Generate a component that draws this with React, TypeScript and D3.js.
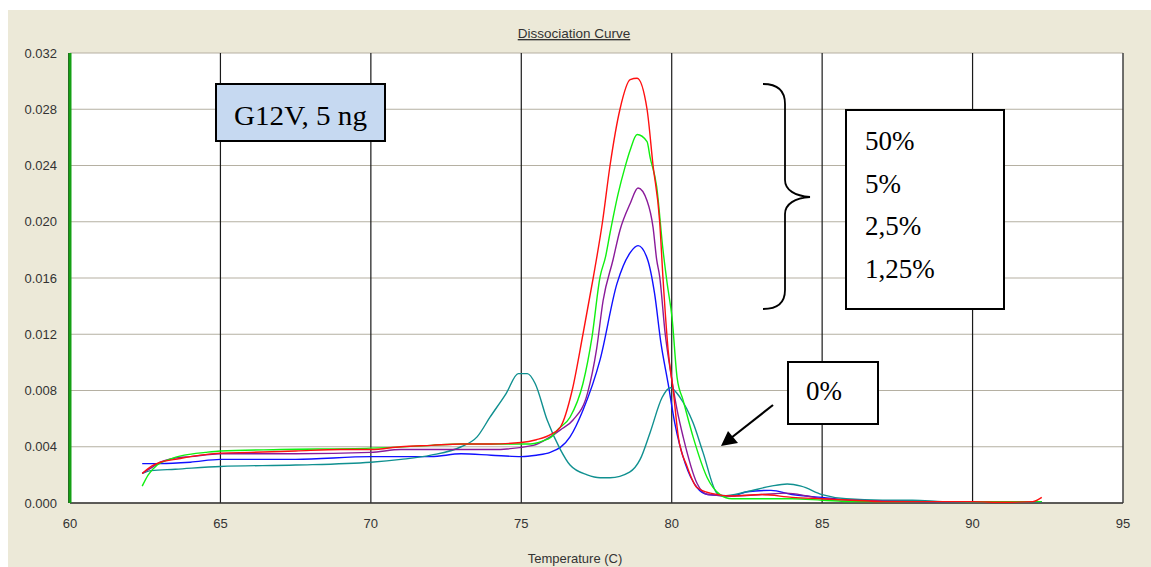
import React from "react";
import * as d3 from "d3";

const xTicks = [60, 65, 70, 75, 80, 85, 90, 95];
const yTicks = [0, 0.004, 0.008, 0.012, 0.016, 0.02, 0.024, 0.028, 0.032];
const vGrid = [65, 70, 75, 80, 85, 90];

const red50: [number, number][] = [
  [62.4, 0.0021], [62.7, 0.0026], [63.0, 0.0029], [63.5, 0.0031], [64, 0.0033], [65, 0.00355],
  [66, 0.0036], [67.5, 0.0037], [69, 0.0038], [70, 0.0038], [71, 0.004], [72, 0.0041], [73, 0.0042],
  [74, 0.0042], [75, 0.0043], [75.5, 0.0045], [76, 0.0049], [76.3, 0.0054], [76.69, 0.008],
  [77.05, 0.012], [77.39, 0.016], [77.7, 0.02], [77.95, 0.024], [78.28, 0.028], [78.62, 0.0301],
  [78.85, 0.0302], [79.18, 0.028], [79.38, 0.024], [79.6, 0.02], [79.71, 0.016], [79.88, 0.0109],
  [80.05, 0.008], [80.22, 0.0047], [80.51, 0.0026], [80.84, 0.0011], [81.28, 0.0007], [82, 0.0005],
  [83, 0.0006], [84, 0.0004], [85, 0.0003], [86, 0.0002], [87, 0.0001], [88, 0.0001], [90, 0.0001],
  [91, 0.00005], [92, 0.0001], [92.3, 0.0004],
];

const green5: [number, number][] = [
  [62.4, 0.0012], [62.6, 0.002], [62.9, 0.0027], [63.3, 0.0031], [63.8, 0.0034], [64.5, 0.0036],
  [65, 0.0037], [67, 0.0038], [70, 0.0039], [72, 0.0041], [73, 0.0042], [74.5, 0.0042], [75.3, 0.0042],
  [75.7, 0.0044], [76.0, 0.0047], [76.2, 0.0052], [76.62, 0.0061], [77.05, 0.0085], [77.35, 0.0118],
  [77.62, 0.0161], [77.8, 0.0175], [77.95, 0.0192], [78.22, 0.022], [78.45, 0.0239], [78.62, 0.0251],
  [78.85, 0.0262], [79.18, 0.0257], [79.28, 0.0246], [79.5, 0.0225], [79.71, 0.018], [79.85, 0.0156],
  [80.01, 0.0132], [80.18, 0.0089], [80.38, 0.0073], [80.71, 0.0047], [81.18, 0.0018], [81.61, 0.0006],
  [82, 0.0003], [84, 0.0003], [85, 0.0002], [86, 0.0001], [90, 0.0001], [92.3, 0.0001],
];

const purple25: [number, number][] = [
  [62.4, 0.0021], [62.7, 0.0025], [63, 0.0029], [63.5, 0.0032], [64, 0.0033], [65, 0.0035],
  [67.5, 0.0035], [70, 0.0036], [71, 0.0038], [72, 0.0038], [74, 0.0038], [75.4, 0.0041],
  [75.96, 0.0047], [76.3, 0.0052], [76.72, 0.0059], [77.2, 0.0078], [77.5, 0.0109], [77.72, 0.0144],
  [78.05, 0.0173], [78.28, 0.0194], [78.62, 0.0213], [78.88, 0.0224], [79.18, 0.0215], [79.38, 0.0196],
  [79.5, 0.0173], [79.6, 0.0161], [79.78, 0.0121], [79.95, 0.0095], [80.18, 0.0066], [80.38, 0.0047],
  [80.84, 0.0014], [81.2, 0.0006], [82, 0.0005], [83, 0.0006], [83.8, 0.0007], [84.5, 0.0005],
  [85, 0.0003], [86, 0.0002], [88, 0.0001], [90, 0.0001], [92.3, 0.0001],
];

const blue125: [number, number][] = [
  [62.4, 0.0028], [63, 0.0028], [64, 0.0029], [65, 0.0031], [67.5, 0.0031], [70, 0.0033],
  [72, 0.0033], [73, 0.0035], [74, 0.0034], [75, 0.0033], [75.5, 0.0034], [75.96, 0.0036],
  [76.62, 0.0047], [77.05, 0.0066], [77.62, 0.0102], [78.18, 0.0156], [78.62, 0.0178], [78.88, 0.0183],
  [79.2, 0.0173], [79.43, 0.0149], [79.64, 0.0114], [79.88, 0.0085], [80.1, 0.0057], [80.45, 0.0028],
  [80.84, 0.0011], [81.2, 0.0006], [82, 0.0005], [82.5, 0.0008], [83.3, 0.0009], [84, 0.0006],
  [85, 0.0004], [86, 0.0002], [88, 0.0001], [90, 0.00005], [92.3, 0.0001],
];

const teal0: [number, number][] = [
  [62.4, 0.0021], [62.7, 0.0023], [63.5, 0.0024], [65, 0.0026], [67.5, 0.0027], [70, 0.0029],
  [71, 0.0031], [72, 0.0034], [73, 0.004], [73.53, 0.0047], [73.96, 0.0061], [74.5, 0.0078],
  [74.9, 0.0092], [75.2, 0.0092], [75.46, 0.0085], [75.86, 0.0059], [76.3, 0.0038], [76.62, 0.0027],
  [77.19, 0.002], [77.62, 0.0018], [77.95, 0.0018], [78.6, 0.0022], [78.95, 0.0031], [79.28, 0.005],
  [79.68, 0.0075], [79.95, 0.0082], [80.28, 0.0075], [80.71, 0.0057], [81.04, 0.0036], [81.5, 0.0007],
  [81.7, 0.0005], [82.5, 0.0008], [83.3, 0.0012], [83.84, 0.00135], [84.3, 0.0012], [85, 0.0006],
  [85.8, 0.0003], [87, 0.0002], [88, 0.0002], [89, 0.0001], [90, 0.00005], [92.3, 0.0001],
];

const seriesList = [
  { name: "1,25%", data: blue125, color: "#1010ff" },
  { name: "0%", data: teal0, color: "#109090" },
  { name: "2,5%", data: purple25, color: "#8a1a9a" },
  { name: "5%", data: green5, color: "#10f010" },
  { name: "50%", data: red50, color: "#ff1010" },
];

const legendLabels = ["50%", "5%", "2,5%", "1,25%"];

const W = 1151;
const H = 567;
const L = 70, R = 1123, T = 53, B = 503;

export default function App() {
  const x = d3.scaleLinear().domain([60, 95]).range([L, R]);
  const y = d3.scaleLinear().domain([0, 0.032]).range([B, T]);
  const line = d3
    .line<[number, number]>()
    .x((d) => x(d[0]))
    .y((d) => y(d[1]))
    .curve(d3.curveMonotoneX);
  const axisFont = "'Liberation Sans', Arial, sans-serif";
  const serif = "'Liberation Serif', 'Times New Roman', serif";

  return (
    <svg
      width={W}
      height={H}
      style={{ position: "absolute", left: 0, top: 0 }}
    >
      <rect x={0} y={0} width={W} height={H} fill="#ffffff" />
      <rect x={8} y={10} width={W - 8} height={H - 10} fill="#ECE9D8" />
      <rect x={L} y={T} width={R - L} height={B - T} fill="#ffffff" />
      {yTicks.map((t) => (
        <line key={"h" + t} x1={L} x2={R} y1={y(t)} y2={y(t)} stroke="#B5B0A2" strokeWidth={1.2} />
      ))}
      {vGrid.map((t) => (
        <line key={"v" + t} x1={x(t)} x2={x(t)} y1={T} y2={B} stroke="#1a1a1a" strokeWidth={1.2} />
      ))}
      <line x1={R} x2={R} y1={T} y2={B} stroke="#404040" strokeWidth={1.5} />
      <line x1={L} x2={R} y1={B} y2={B} stroke="#333333" strokeWidth={1.5} />
      <rect x={L - 1.5} y={T} width={3} height={B - T} fill="#14a014" />
      <line x1={L - 1.5} x2={L - 1.5} y1={T} y2={B} stroke="#0a5a0a" strokeWidth={0.8} />

      {seriesList.map((s) => (
        <path key={s.name} d={line(s.data) || ""} fill="none" stroke={s.color} strokeWidth={1.4} />
      ))}

      {yTicks.map((t) => (
        <text key={"yl" + t} x={57} y={y(t) + 4.5} textAnchor="end" fontFamily={axisFont} fontSize={13} fill="#333">
          {t.toFixed(3)}
        </text>
      ))}
      {xTicks.map((t) => (
        <text key={"xl" + t} x={x(t)} y={528} textAnchor="middle" fontFamily={axisFont} fontSize={13} fill="#333">
          {t}
        </text>
      ))}
      <text x={574} y={38} textAnchor="middle" fontFamily={axisFont} fontSize={13.5} fill="#333" textDecoration="underline">
        Dissociation Curve
      </text>
      <text x={575} y={563} textAnchor="middle" fontFamily={axisFont} fontSize={13} fill="#333">
        Temperature (C)
      </text>

      <rect x={216} y={84} width={169} height={57} fill="#C6D9F1" stroke="#000" strokeWidth={2} />
      <text x={234} y={125} fontFamily={serif} fontSize={28} fill="#000" textLength={133} lengthAdjust="spacingAndGlyphs">G12V, 5 ng</text>

      <path
        d="M763,84 C779,84 785,92 785,104 L785,180 C785,190 795,196 810,197 C795,198 785,204 785,214 L785,290 C785,302 779,309 763,309"
        fill="none" stroke="#000" strokeWidth={1.8}
      />

      <rect x={846} y={110} width={158} height={199} fill="#fff" stroke="#000" strokeWidth={2} />
      {legendLabels.map((lab, i) => (
        <text key={lab} x={865} y={150 + i * 42.5} fontFamily={serif} fontSize={27} fill="#000">{lab}</text>
      ))}

      <rect x={788} y={362} width={90} height={62} fill="#fff" stroke="#000" strokeWidth={2} />
      <text x={806} y={400} fontFamily={serif} fontSize={27} fill="#000">0%</text>

      <line x1={773} y1={405} x2={731} y2={438} stroke="#000" strokeWidth={2.2} />
      <polygon points="721,446 728,431 738,443" fill="#000" />
    </svg>
  );
}
